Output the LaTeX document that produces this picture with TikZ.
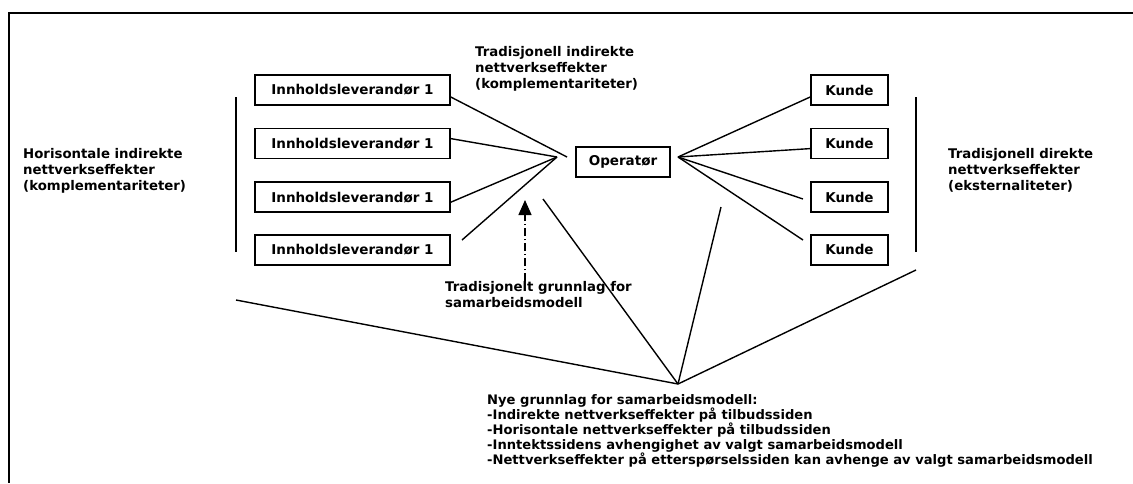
\documentclass[tikz,border=0pt]{standalone}
\usepackage{fontspec}
\setmainfont{DejaVu Sans}
\usetikzlibrary{arrows.meta,positioning}

\begin{document}
\begin{tikzpicture}[
  x=1pt,y=-1pt,
  box/.style={draw,line width=1.6pt,minimum height=30pt,inner sep=0pt,font=\bfseries\fontsize{13.5}{16}\selectfont},
  lev/.style={box,minimum width=195pt},
  kunde/.style={box,minimum width=77pt},
  txt/.style={anchor=north west,inner sep=0pt,align=left,font=\bfseries\fontsize{13.3}{16}\selectfont},
  link/.style={line width=1.4pt},
  dasharrow/.style={-{Triangle[length=15pt,width=13pt]},line width=1.4pt,dash pattern=on 8pt off 3pt on 1pt off 3pt},
  node distance=22pt and 1cm
]
\useasboundingbox (0,0) rectangle (1133,483);
\draw[line width=2pt] (1133,13) -- (9,13) -- (9,483);

% tilbudssiden
\node[lev] (lev1) at (352.5,90) {Innholdsleverandør 1};
\node[lev,below=of lev1] (lev2) {Innholdsleverandør 1};
\node[lev,below=of lev2] (lev3) {Innholdsleverandør 1};
\node[lev,below=21pt of lev3] (lev4) {Innholdsleverandør 1};

\node[box,minimum width=94pt] (op) at (623,162) {Operatør};

% etterspørselssiden
\node[kunde] (k1) at (849.5,90) {Kunde};
\node[kunde,below=of k1] (k2) {Kunde};
\node[kunde,below=of k2] (k3) {Kunde};
\node[kunde,below=21pt of k3] (k4) {Kunde};

\coordinate (lhub) at (557,157);
\coordinate (lhub1) at (567,157);
\coordinate (rhub) at (678,157);
\coordinate (bhub) at (678,384);
\coordinate (l4) at (462,240);
\coordinate (k3end) at (803,199);
\coordinate (k4end) at (803,240);

\draw[link] ([yshift=-7pt]lev1.east) -- (lhub1);
\draw[link] ([yshift=5pt]lev2.east) -- (lhub);
\draw[link] ([yshift=-5pt]lev3.east) -- (lhub);
\draw[link] (l4) -- (lhub);

\draw[link] (rhub) -- ([yshift=-7pt]k1.west);
\draw[link] (rhub) -- ([yshift=-5pt]k2.west);
\draw[link] (rhub) -- (k3end);
\draw[link] (rhub) -- (k4end);

% klammer
\draw[link] (236,97) -- (236,252);
\draw[link] (916,97) -- (916,252);

% nye grunnlag
\coordinate (b1) at (236,300);
\coordinate (b2) at (543,199);
\coordinate (b3) at (721,207);
\coordinate (b4) at (916,270);
\foreach \b in {b1,b2,b3,b4}
  \draw[link] (bhub) -- (\b);

\node[txt] (trind) at (475,46) {Tradisjonell indirekte\\nettverkseffekter\\(komplementariteter)};
\node[txt] (horis) at (23,148) {Horisontale indirekte\\nettverkseffekter\\(komplementariteter)};
\node[txt] (trdir) at (948,148) {Tradisjonell direkte\\nettverkseffekter\\(eksternaliteter)};
\node[txt] (grunn) at (445,281) {Tradisjonelt grunnlag for\\samarbeidsmodell};
\node[txt,font=\bfseries\fontsize{13.1}{15}\selectfont] (nye) at (487,394) {Nye grunnlag for samarbeidsmodell:\\-Indirekte nettverkseffekter på tilbudssiden\\-Horisontale nettverkseffekter på tilbudssiden\\-Inntektssidens avhengighet av valgt samarbeidsmodell\\-Nettverkseffekter på etterspørselssiden kan avhenge av valgt samarbeidsmodell};

\coordinate (pil) at (525,200);
\draw[dasharrow] (pil |- grunn.north) -- (pil);
\end{tikzpicture}
\end{document}
